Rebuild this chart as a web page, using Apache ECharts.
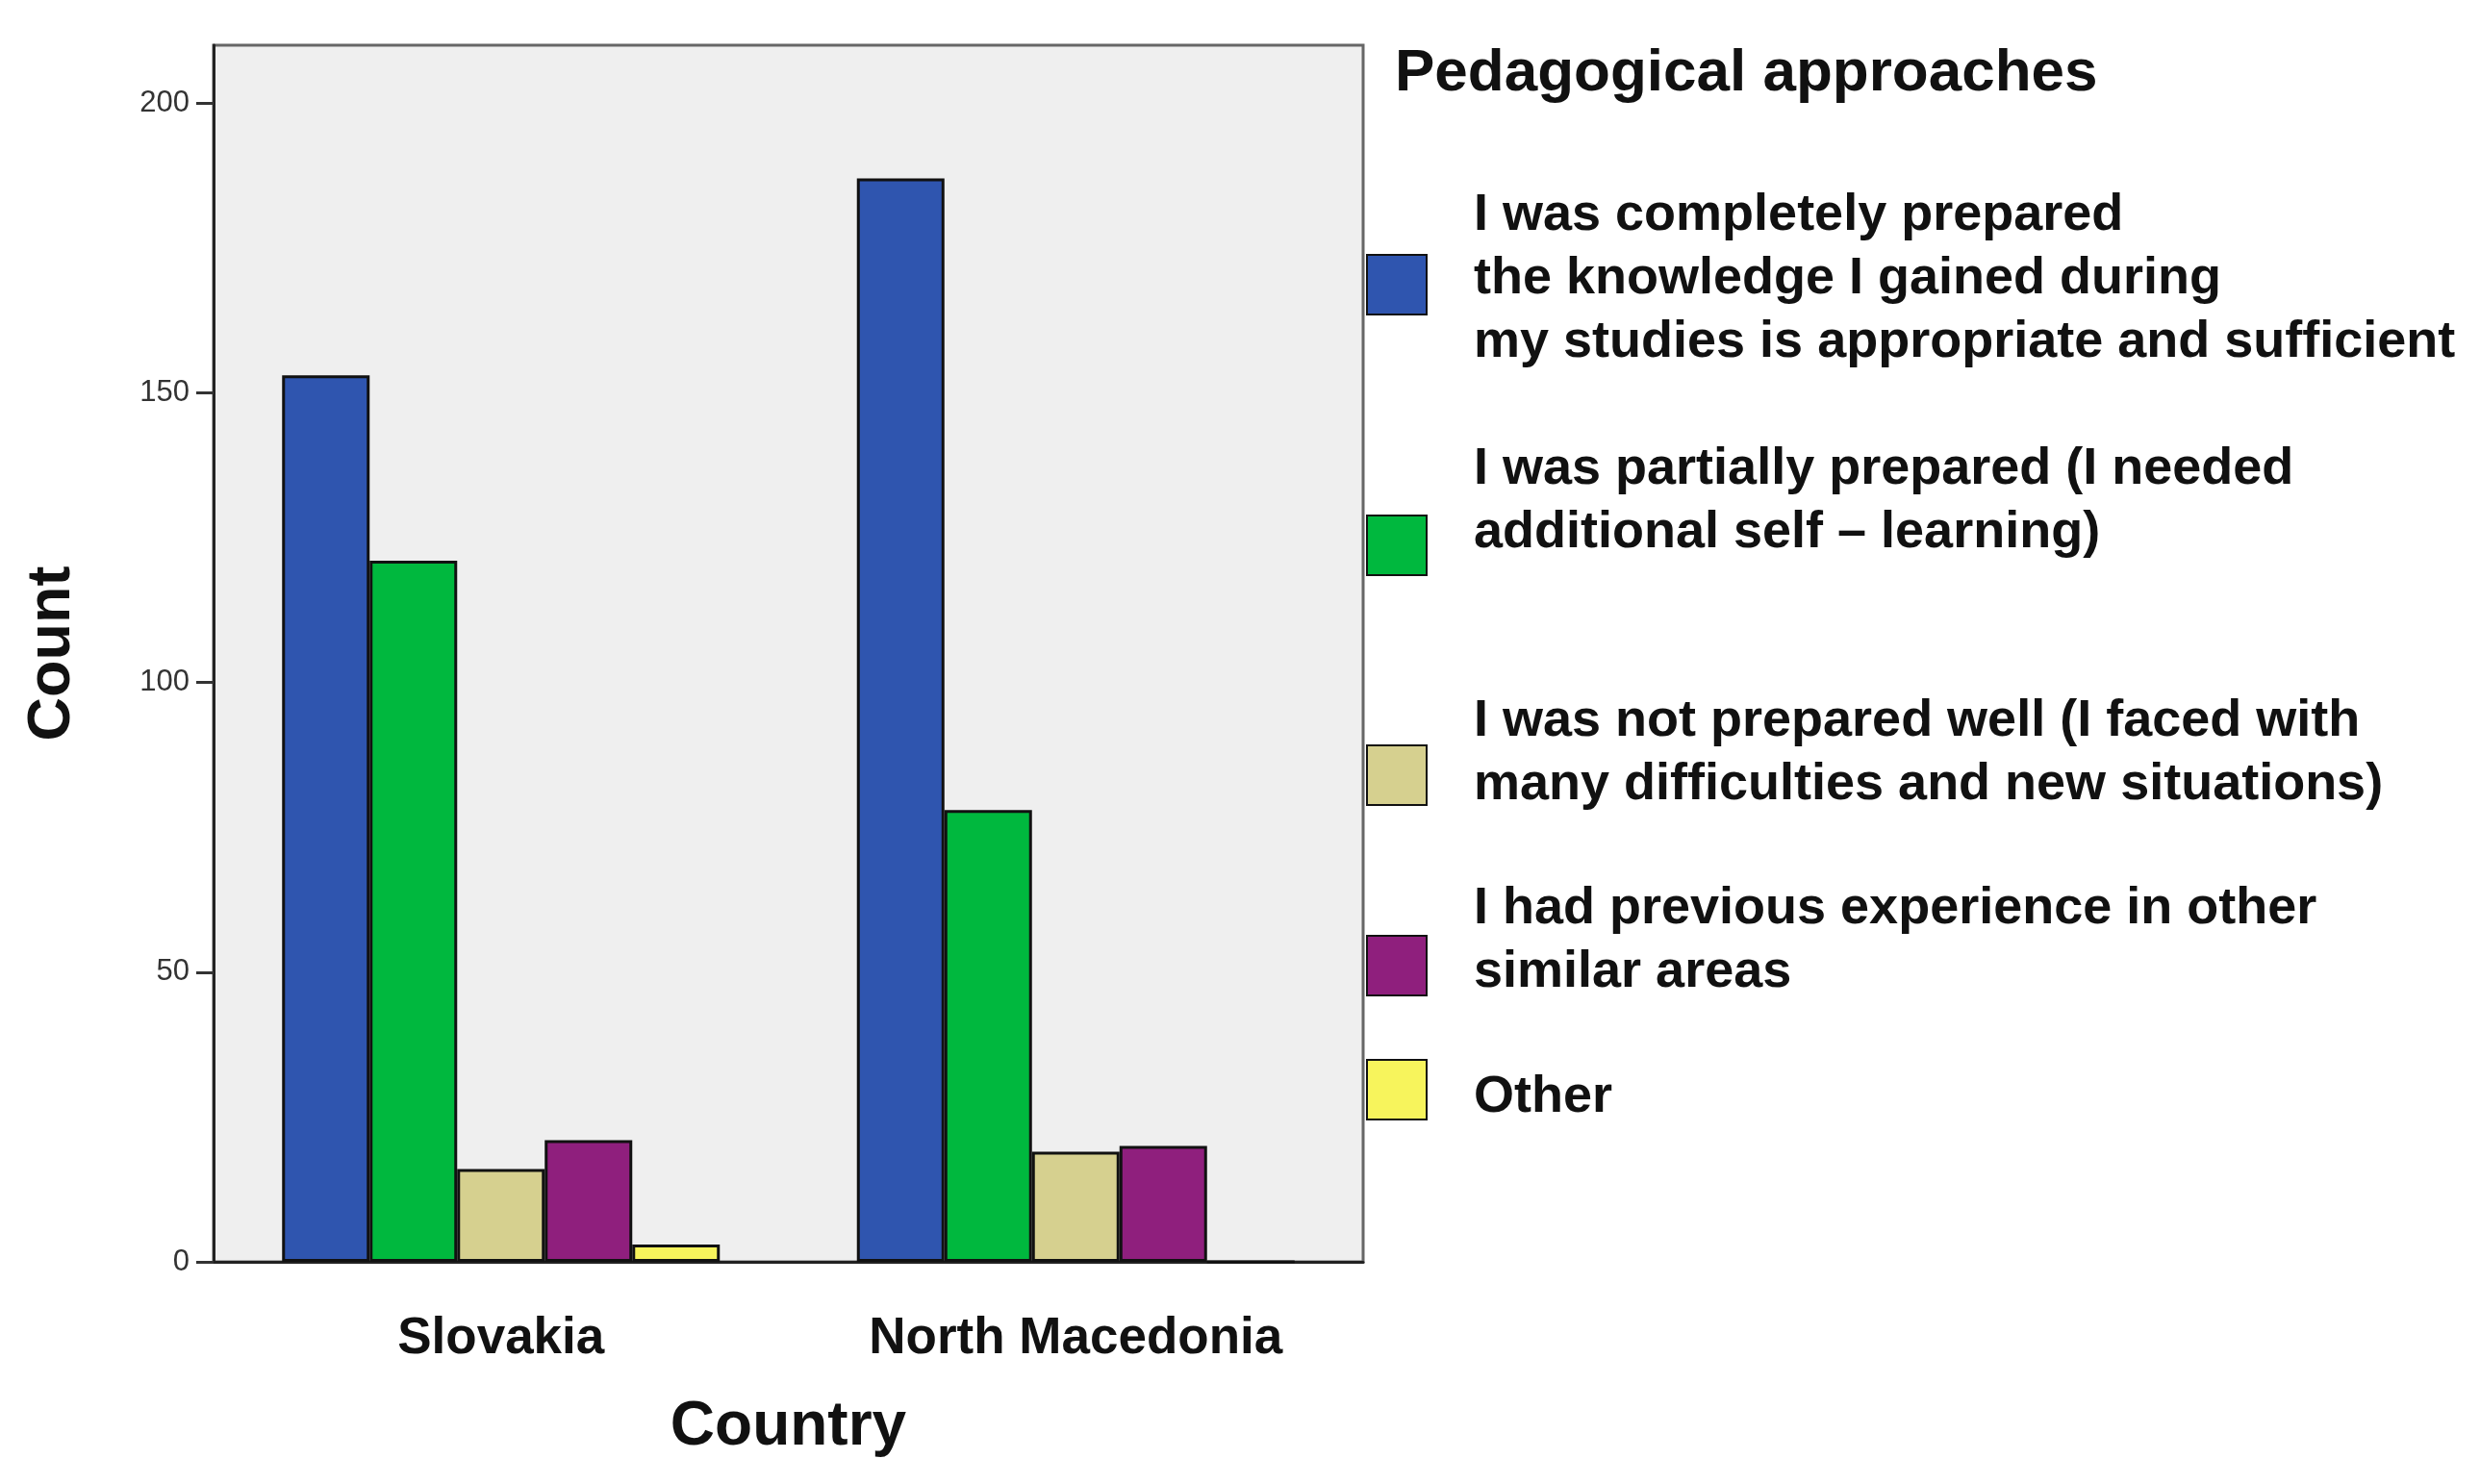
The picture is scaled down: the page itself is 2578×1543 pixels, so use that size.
<!DOCTYPE html>
<html>
<head>
<meta charset="utf-8">
<script src="https://cdn.jsdelivr.net/npm/echarts@6/dist/echarts.min.js"></script>
<style>
  html, body { margin: 0; padding: 0; background: #ffffff; }
  #chart { width: 2578px; height: 1543px; }
</style>
</head>
<body>
<div id="chart"></div>
<script>
// ---- data ----
const categories = ['Slovakia', 'North Macedonia'];
const seriesNames = [
  'I was completely prepared the knowledge I gained during my studies is appropriate and sufficient',
  'I was partially prepared (I needed additional self – learning)',
  'I was not prepared well (I faced with many difficulties and new situations)',
  'I had previous experience in other similar areas',
  'Other'
];
const legendLabels = [
  'I was completely prepared\nthe knowledge I gained during\nmy studies is appropriate and sufficient',
  'I was partially prepared (I needed\nadditional self – learning)',
  'I was not prepared well (I faced with\nmany difficulties and new situations)',
  'I had previous experience in other\nsimilar areas',
  'Other'
];
const completelyPrepared = [153, 187];
const partiallyPrepared = [121, 78];
const notPreparedWell = [16, 19];
const previousExperience = [21, 20];
const other = [3, 0];
const seriesValues = [completelyPrepared, partiallyPrepared, notPreparedWell, previousExperience, other];
const yTicks = [0, 50, 100, 150, 200];

// ---- style / layout ----
const colors = ['#2F55AF', '#00B83E', '#D6D08F', '#8F1F7D', '#F7F45C'];
const FONT = '"Liberation Sans", Arial, sans-serif';
const legendTops = [191, 455, 717, 912, 1092];
// vertical offset of text block relative to swatch: extra spacer line after (positive) or before (negative)
const legendSpacer = [12, 92, 46, 52, -16];

const chart = echarts.init(document.getElementById('chart'), null, {renderer: 'canvas'});

function legendText(i) {
  const s = legendSpacer[i];
  if (s > 0) return legendLabels[i] + '\n{sp' + i + '| }';
  if (s < 0) return '{sp' + i + '| }\n' + legendLabels[i];
  return legendLabels[i];
}

const option = {
  backgroundColor: '#ffffff',
  animation: false,
  title: {
    text: 'Pedagogical approaches',
    left: 1450,
    top: 46,
    padding: 0,
    textStyle: { fontFamily: FONT, fontSize: 62, fontWeight: 'bold', color: '#111' }
  },
  legend: legendLabels.map((txt, i) => {
    const rich = {};
    rich['sp' + i] = { fontSize: 1, lineHeight: Math.abs(legendSpacer[i]) };
    return {
      data: [seriesNames[i]],
      orient: 'vertical',
      left: 1420,
      top: legendTops[i],
      padding: 0,
      itemWidth: 62,
      itemHeight: 62,
      selectedMode: false,
      icon: 'rect',
      formatter: () => legendText(i),
      textStyle: {
        fontFamily: FONT, fontSize: 54, fontWeight: 'bold', color: '#111',
        lineHeight: 66, padding: [0, 0, 0, 44], rich: rich
      }
    };
  }),
  grid: {
    left: 222, right: 1161, top: 47, bottom: 231,
    show: true, backgroundColor: '#EFEFEF', borderColor: '#666', borderWidth: 3,
    containLabel: false
  },
  xAxis: {
    type: 'category',
    data: categories,
    name: 'Country',
    nameLocation: 'middle',
    nameGap: 140,
    nameTextStyle: { fontFamily: FONT, fontSize: 64, fontWeight: 'bold', color: '#111' },
    axisLine: { lineStyle: { color: '#222', width: 3 } },
    axisTick: { alignWithLabel: true, length: 16, lineStyle: { color: '#333', width: 3 } },
    axisLabel: { margin: 54, fontFamily: FONT, fontSize: 53, fontWeight: 'bold', color: '#111' },
    splitLine: { show: false }
  },
  yAxis: {
    type: 'value',
    min: 0,
    max: 210,
    interval: 50,
    name: 'Count',
    nameLocation: 'middle',
    nameGap: 136,
    nameRotate: 90,
    nameTextStyle: { fontFamily: FONT, fontSize: 63, fontWeight: 'bold', color: '#111' },
    axisLine: { show: true, lineStyle: { color: '#222', width: 3 } },
    axisTick: { show: true, length: 18, lineStyle: { color: '#333', width: 3 } },
    axisLabel: {
      margin: 25, fontFamily: FONT, fontSize: 31, color: '#333',
      showMaxLabel: false,
      formatter: v => (yTicks.indexOf(v) >= 0 ? String(v) : '')
    },
    splitLine: { show: false }
  },
  series: seriesNames.map((name, i) => ({
    name: name,
    type: 'bar',
    data: seriesValues[i],
    barWidth: 91,
    barGap: '0%',
    itemStyle: { color: colors[i], borderColor: '#111', borderWidth: 3 }
  }))
};

chart.setOption(option);
</script>
</body>
</html>
